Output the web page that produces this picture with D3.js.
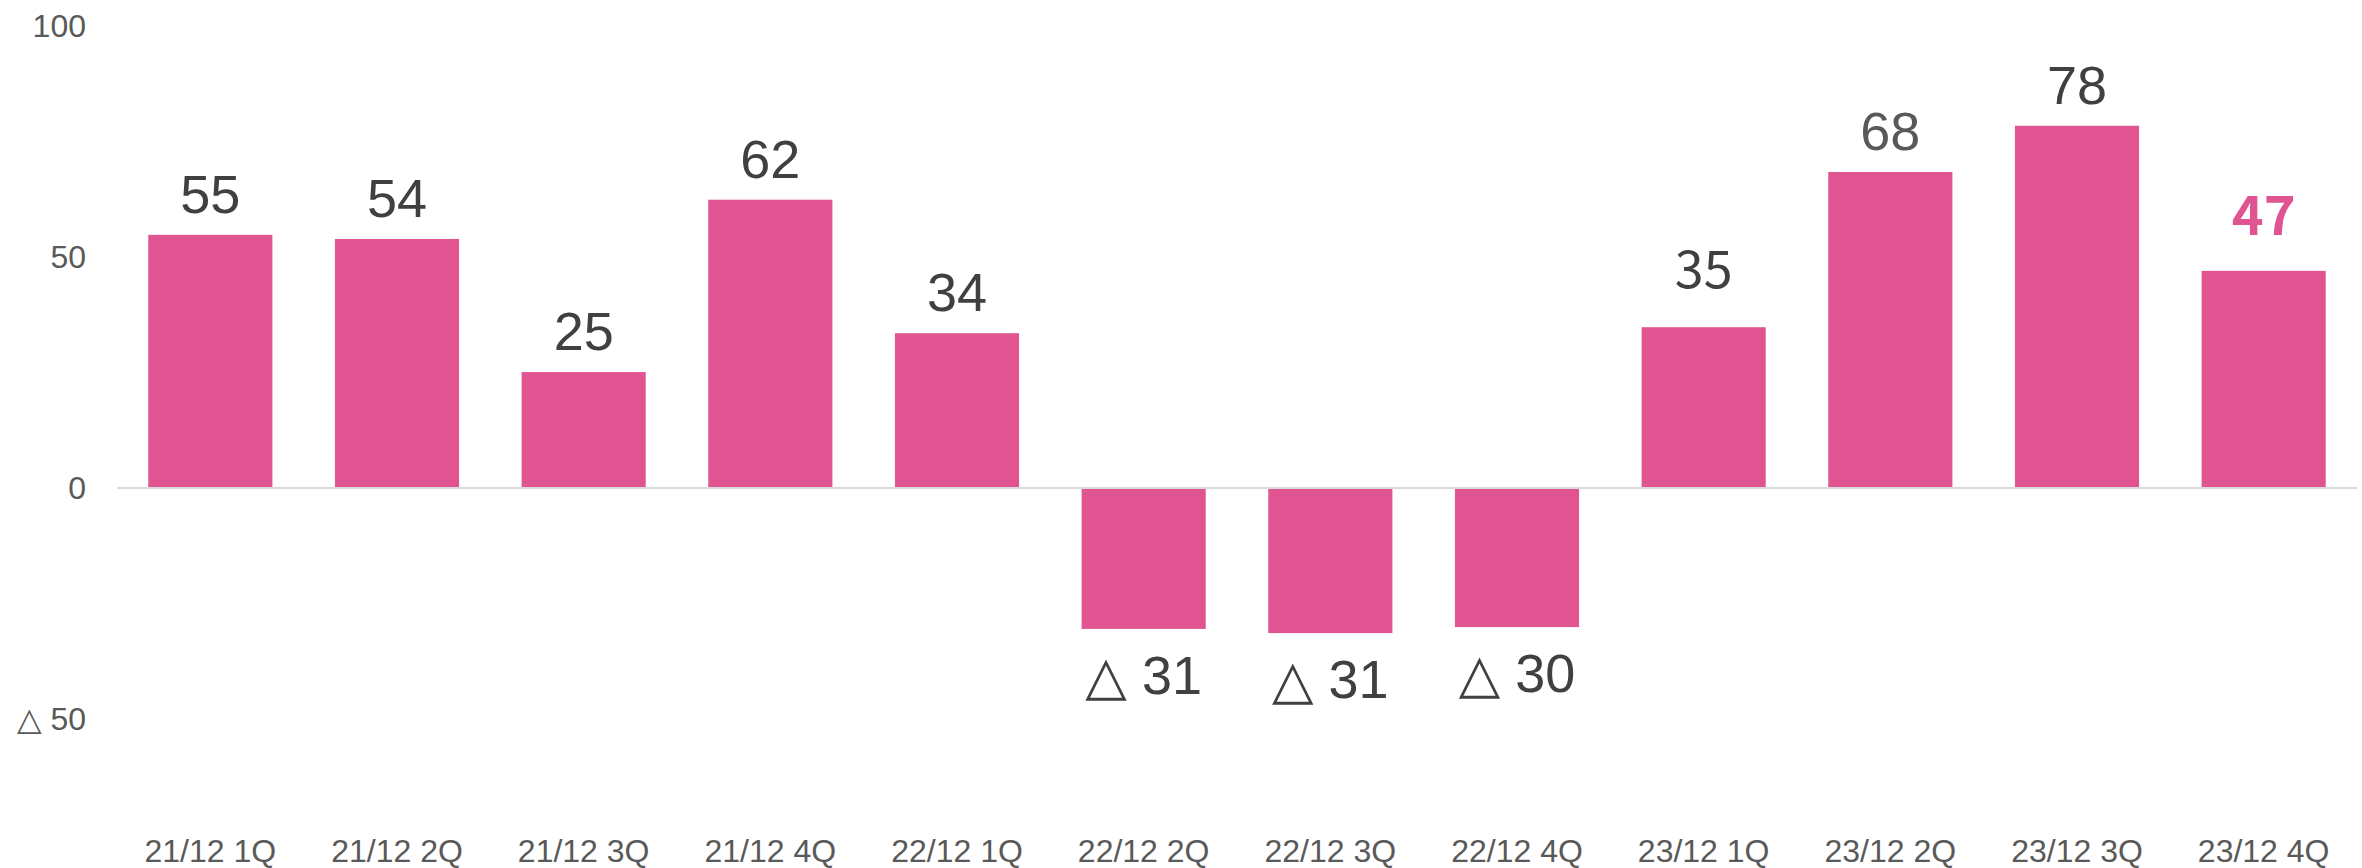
<!DOCTYPE html>
<html>
<head>
<meta charset="utf-8">
<script src="https://cdn.jsdelivr.net/npm/d3@7"></script>
<style>
  html, body { margin: 0; padding: 0; background: #fff; }
  svg { display: block; }
</style>
</head>
<body>
<div id="chart"></div>
<script>
const categories = ["21/12 1Q", "21/12 2Q", "21/12 3Q", "21/12 4Q", "22/12 1Q", "22/12 2Q",
  "22/12 3Q", "22/12 4Q", "23/12 1Q", "23/12 2Q", "23/12 3Q", "23/12 4Q"];
const values = [54.8, 53.9, 25.1, 62.4, 33.5, -30.5, -31.4, -30.1, 34.8, 68.4, 78.4, 47.0];
const yTicks = [-50, 0, 50, 100];

const width = 2362;
const height = 868;
const pink = "#e05591";
const labelFont = "'Liberation Sans', Arial, 'DejaVu Sans', sans-serif";

// a few labels in the source are styled by hand
const labelOverrides = {
  "23/12 1Q": { gap: 39, family: "'Noto Sans CJK JP', sans-serif", size: 52 },
  "23/12 2Q": { fill: "#595959" },
  "23/12 4Q": { gap: 36, fill: pink, weight: "bold", family: "'Noto Sans CJK JP', sans-serif", size: 54 }
};

const svg = d3.select('#chart')
  .append('svg')
  .attr('width', width)
  .attr('height', height)

const xScale = d3.scaleBand()
  .domain(categories)
  .range([117, 2357])
  .paddingInner(0.335)
  .paddingOuter(0.1675)

const yScale = d3.scaleLinear()
  .domain([-50, 100])
  .range([719, 26])

const fmt = (v) => v < 0 ? "\u25B3 " + Math.round(-v) : String(Math.round(v));

// y axis, labels only
const yAxis = d3.axisLeft(yScale)
  .tickValues(yTicks)
  .tickSize(0)
  .tickPadding(0)
  .tickFormat(fmt)

svg.append('g')
  .attr('id', 'y-axis')
  .attr('transform', 'translate(86, 0)')
  .call(yAxis)
  .call(g => g.select('.domain').remove())
  .selectAll('text')
  .attr('font-size', 32)
  .attr('font-family', labelFont)
  .attr('fill', '#595959')

// x axis labels at the bottom
const xAxis = d3.axisBottom(xScale)
  .tickSize(0)
  .tickPadding(0)

svg.append('g')
  .attr('id', 'x-axis')
  .attr('transform', 'translate(0, 839)')
  .call(xAxis)
  .call(g => g.select('.domain').remove())
  .selectAll('text')
  .attr('font-size', 32)
  .attr('font-family', labelFont)
  .attr('fill', '#595959')

const data = categories.map((c, i) => ({ cat: c, value: values[i] }));

svg.append('g')
  .selectAll('rect')
  .data(data)
  .join('rect')
  .attr('x', d => xScale(d.cat))
  .attr('width', xScale.bandwidth())
  .attr('y', d => yScale(Math.max(0, d.value)))
  .attr('height', d => Math.abs(yScale(d.value) - yScale(0)))
  .attr('fill', pink)

// zero line
svg.append('line')
  .attr('x1', xScale.range()[0])
  .attr('x2', xScale.range()[1])
  .attr('y1', yScale(0))
  .attr('y2', yScale(0))
  .attr('stroke', '#d9d9d9')
  .attr('stroke-width', 2)

svg.append('g')
  .selectAll('text')
  .data(data)
  .join('text')
  .attr('x', d => xScale(d.cat) + xScale.bandwidth() / 2)
  .attr('y', d => {
    const o = labelOverrides[d.cat] || {};
    if (d.value < 0) return yScale(d.value) + 65;
    return yScale(d.value) - (o.gap || 22);
  })
  .attr('text-anchor', 'middle')
  .attr('font-family', d => (labelOverrides[d.cat] || {}).family || labelFont)
  .attr('font-size', d => (labelOverrides[d.cat] || {}).size || 54)
  .attr('font-weight', d => (labelOverrides[d.cat] || {}).weight || 'normal')
  .attr('fill', d => (labelOverrides[d.cat] || {}).fill || '#404040')
  .text(d => fmt(d.value))
</script>
</body>
</html>
